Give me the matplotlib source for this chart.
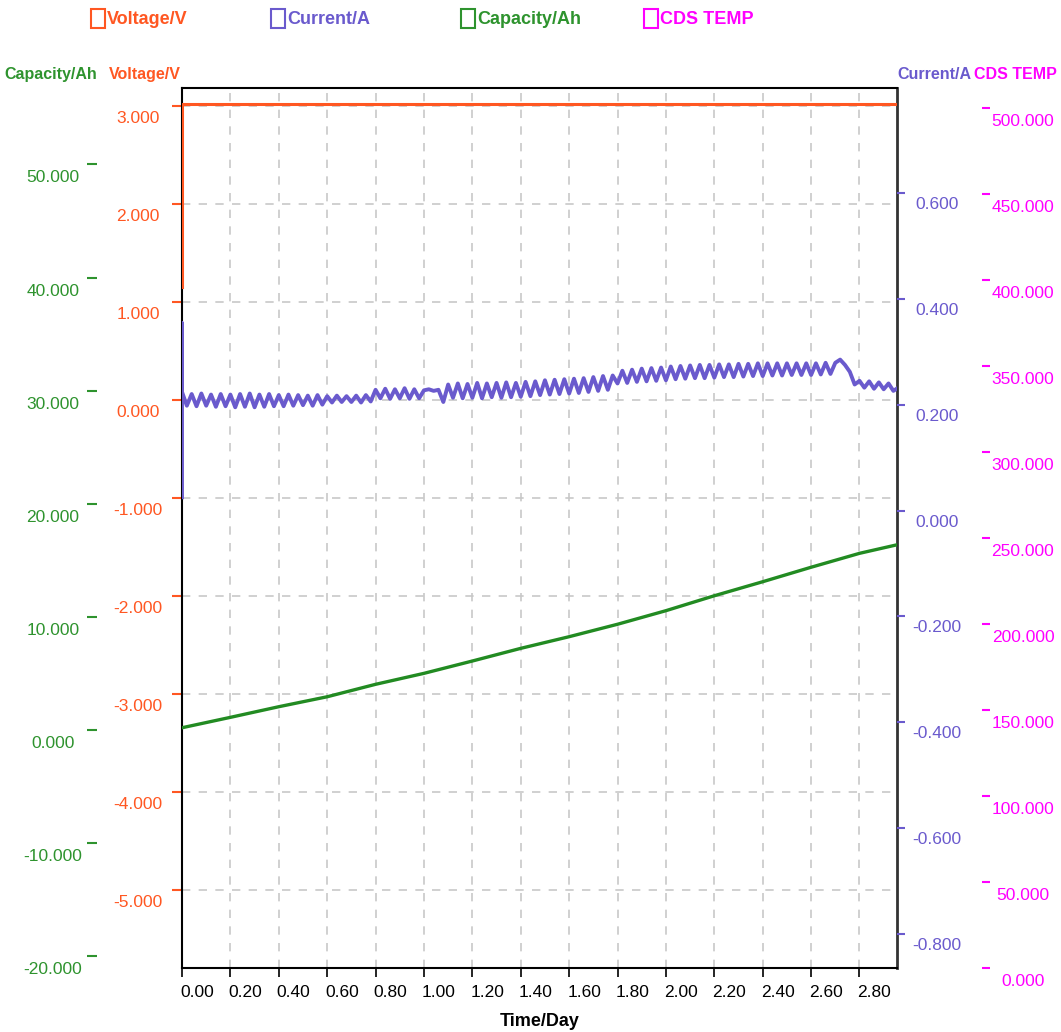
import numpy as np
import matplotlib
matplotlib.use('Agg')
import matplotlib.pyplot as plt
from matplotlib.patches import Rectangle
from matplotlib.transforms import ScaledTranslation

plt.rcParams['font.family'] = ['Liberation Sans', 'DejaVu Sans']
BOLD_FONT = ['Liberation Sans', 'DejaVu Sans']

# ---- data ----
voltage_t = [0.0, 0.0, 2.96]
voltage_v = [1.15, 3.015, 3.015]

cap_t = [0.0, 0.2, 0.4, 0.6, 0.8, 1.0, 1.2, 1.4, 1.6, 1.8, 2.0, 2.2, 2.4, 2.6, 2.8, 2.96]
cap_ah = [0.20, 1.12, 2.06, 2.94, 4.04, 5.01, 6.10, 7.22, 8.25, 9.35,
          10.55, 11.87, 13.11, 14.39, 15.62, 16.40]

# current sampled every 0.02 day, plus the start-up spike at t=0
cur_step = 0.02
cur_spike = [0.025, 0.354]
current_a = [
    0.224, 0.198, 0.220, 0.197, 0.221, 0.198, 0.219, 0.196, 0.220, 0.197,
    0.219, 0.195, 0.220, 0.196, 0.221, 0.195, 0.219, 0.196, 0.220, 0.197,
    0.218, 0.197, 0.219, 0.198, 0.218, 0.199, 0.217, 0.198, 0.218, 0.200,
    0.216, 0.204, 0.217, 0.205, 0.216, 0.205, 0.217, 0.204, 0.218, 0.206,
    0.228, 0.212, 0.230, 0.211, 0.229, 0.212, 0.231, 0.211, 0.229, 0.212,
    0.227, 0.229, 0.226, 0.228, 0.205, 0.238, 0.213, 0.240, 0.212, 0.239,
    0.213, 0.241, 0.212, 0.240, 0.214, 0.241, 0.213, 0.242, 0.214, 0.241,
    0.215, 0.243, 0.216, 0.244, 0.218, 0.246, 0.219, 0.247, 0.220, 0.248,
    0.221, 0.249, 0.222, 0.250, 0.224, 0.252, 0.226, 0.254, 0.228, 0.255,
    0.240, 0.264, 0.241, 0.266, 0.243, 0.268, 0.244, 0.269, 0.245, 0.270,
    0.246, 0.272, 0.248, 0.273, 0.249, 0.274, 0.250, 0.275, 0.250, 0.275,
    0.251, 0.276, 0.252, 0.276, 0.252, 0.277, 0.253, 0.277, 0.254, 0.278,
    0.254, 0.278, 0.255, 0.278, 0.255, 0.278, 0.256, 0.278, 0.256, 0.278,
    0.256, 0.278, 0.257, 0.279, 0.258, 0.279, 0.285, 0.275, 0.262, 0.238,
    0.245, 0.232, 0.244, 0.230, 0.242, 0.229, 0.240, 0.226, 0.232,
]

x_ticks = [0.0, 0.2, 0.4, 0.6, 0.8, 1.0, 1.2, 1.4, 1.6, 1.8, 2.0, 2.2, 2.4, 2.6, 2.8]
volt_ticks = [-5, -4, -3, -2, -1, 0, 1, 2, 3]
cap_ticks = [-20, -10, 0, 10, 20, 30, 40, 50]
cur_ticks = [-0.8, -0.6, -0.4, -0.2, 0.0, 0.2, 0.4, 0.6]
temp_ticks = [0, 50, 100, 150, 200, 250, 300, 350, 400, 450, 500]

C_VOLT = '#ff5722'
C_CUR = '#6a5acd'
C_CAP = '#2e932e'
C_TEMP = '#ff00ff'

# ---- figure, sized in pixels ----
W, H = 1061, 1032
fig = plt.figure(figsize=(W / 100, H / 100), dpi=100)
L, R, T, B = 182, 897, 88, 968
ax = fig.add_axes([L / W, 1 - B / H, (R - L) / W, (B - T) / H])
PT = 0.72  # points per pixel
TICK_FS = 12.5


def shift(dx_px, dy_px):
    return ScaledTranslation(dx_px / 100, dy_px / 100, fig.dpi_scale_trans)


def center_labels(axis, dy_px):
    for lbl in axis.get_ticklabels():
        lbl.set_ha('center')
        lbl.set_transform(lbl.get_transform() + shift(0, -dy_px))


# voltage on the host axes
ax.plot(voltage_t, voltage_v, color=C_VOLT, lw=2.2, zorder=3)
ax.set_xlim(0, 2.955)
ax.set_ylim(-5.80, 3.18)
ax.set_xticks(x_ticks)
ax.set_xticklabels([f'{v:.2f}' for v in x_ticks])
ax.set_yticks(volt_ticks)
ax.set_yticklabels([f'{v:.3f}' for v in volt_ticks])
ax.grid(True, color='#c8c8c8', linestyle=(0, (5, 5)), linewidth=1.2)
ax.set_axisbelow(True)
ax.tick_params(axis='y', colors=C_VOLT, length=10 * PT, width=1.5,
               pad=34 * PT, labelsize=TICK_FS)
ax.tick_params(axis='x', colors='black', length=9 * PT, width=1.2,
               pad=6, labelsize=TICK_FS)
center_labels(ax.yaxis, 11)
for lbl in ax.get_xticklabels():
    lbl.set_ha('left')
    lbl.set_transform(lbl.get_transform() + shift(-2, 0))
ax.spines['left'].set_linestyle((0, (2.4, 1.0)))
ax.spines['left'].set_linewidth(1.5)
ax.spines['left'].set_color('black')
ax.spines['top'].set_linewidth(1.5)
ax.spines['bottom'].set_linewidth(1.5)
ax.spines['right'].set_linewidth(2.0)
ax.spines['right'].set_color('#333333')
ax.set_xlabel('Time/Day', family=BOLD_FONT, fontweight='bold', fontsize=13,
              labelpad=9)

# capacity, left outer axis
ax_cap = ax.twinx()
ax_cap.yaxis.set_ticks_position('left')
ax_cap.spines['left'].set_position(('axes', (97 - L) / (R - L)))
for s in ax_cap.spines.values():
    s.set_visible(False)
ax_cap.plot(cap_t, cap_ah, color='#228b22', lw=2.4)
ax_cap.set_ylim(-21.04, 56.76)
ax_cap.set_yticks(cap_ticks)
ax_cap.set_yticklabels([f'{v:.3f}' for v in cap_ticks])
ax_cap.tick_params(axis='y', colors=C_CAP, length=10 * PT, width=1.5,
                   pad=34 * PT, labelsize=TICK_FS)
center_labels(ax_cap.yaxis, 12)

# current, right inner axis
ax_cur = ax.twinx()
for s in ax_cur.spines.values():
    s.set_visible(False)
cur_t = [0.0, 0.0] + [i * cur_step for i in range(len(current_a))]
ax_cur.plot(cur_t, cur_spike + current_a, color=C_CUR, lw=2.8)
ax_cur.set_ylim(-0.864, 0.798)
ax_cur.set_yticks(cur_ticks)
ax_cur.set_yticklabels([f'{v:.3f}' for v in cur_ticks])
ax_cur.tick_params(axis='y', colors=C_CUR, length=8 * PT, width=1.5,
                   pad=32 * PT, labelsize=TICK_FS)
center_labels(ax_cur.yaxis, 10)

# CDS TEMP, right outer axis (no trace in view)
ax_tmp = ax.twinx()
ax_tmp.spines['right'].set_position(('axes', (982 - L) / (R - L)))
for s in ax_tmp.spines.values():
    s.set_visible(False)
ax_tmp.set_ylim(-0.2, 511.6)
ax_tmp.set_yticks(temp_ticks)
ax_tmp.set_yticklabels([f'{v:.3f}' for v in temp_ticks])
ax_tmp.tick_params(axis='y', colors=C_TEMP, length=8 * PT, width=1.5,
                   pad=33 * PT, labelsize=TICK_FS)
center_labels(ax_tmp.yaxis, 12)

# axis titles above the plot
ty = 1 + 13 / (B - T)
title_kw = dict(transform=ax.transAxes, va='center', family=BOLD_FONT,
                fontweight='bold', fontsize=11.5)
ax.text((97 - L) / (R - L), ty, 'Capacity/Ah', ha='right', color=C_CAP, **title_kw)
ax.text(-1 / (R - L), ty, 'Voltage/V', ha='right', color=C_VOLT, **title_kw)
ax.text(1, ty, 'Current/A', ha='left', color=C_CUR, **title_kw)
ax.text((1057 - L) / (R - L), ty, 'CDS TEMP', ha='right', color=C_TEMP, **title_kw)

# legend row at the top
legend_items = [(91, 'Voltage/V', C_VOLT), (271, 'Current/A', C_CUR),
                (461, 'Capacity/Ah', C_CAP), (644, 'CDS TEMP', C_TEMP)]
for x0, name, col in legend_items:
    fig.add_artist(Rectangle((x0 / W, 1 - 28 / H), 14 / W, 19 / H,
                             transform=fig.transFigure, fill=False,
                             edgecolor=col, lw=1.5))
    fig.text((x0 + 16) / W, 1 - 19 / H, name, color=col, va='center',
             ha='left', family=BOLD_FONT, fontweight='bold', fontsize=13)

fig.savefig('out.png', dpi=100)
